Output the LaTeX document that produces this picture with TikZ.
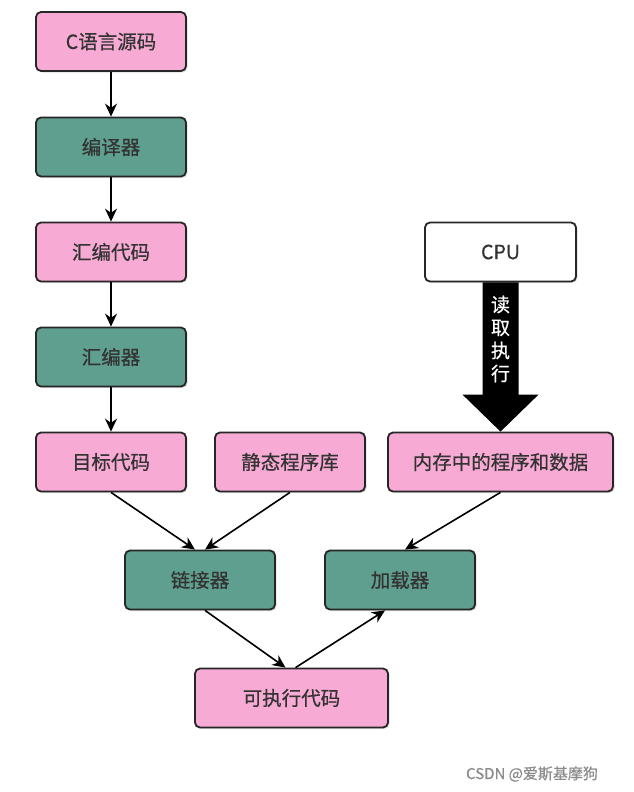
\documentclass[tikz,border=0pt]{standalone}
\usepackage{fontspec}
\setmainfont{Noto Sans CJK SC}[FakeBold=0.6]
\usepackage{xcolor}
\usetikzlibrary{arrows.meta,shadows}
\definecolor{srcpink}{HTML}{F7AAD4}
\definecolor{tooltal}{HTML}{5F9F8F}
\tikzset{
  box/.style={draw=black!85,line width=1.8pt,rounded corners=5pt,minimum width=150pt,minimum height=59pt,
    font=\fontsize{19.5}{22}\selectfont,text=black!80,drop shadow={shadow xshift=1.5pt,shadow yshift=-1.5pt,opacity=.25}},
  pinkbox/.style={box,fill=srcpink},
  toolbox/.style={box,fill=tooltal},
  flow/.style={-{Stealth[length=13pt,width=12pt]},line width=1.6pt}
}
\begin{document}
\begin{tikzpicture}[x=1pt,y=-1pt]
\useasboundingbox (0,0) rectangle (633,792);
	\node[pinkbox] at (111,41.5) (src) {C语言源码};
	\node[toolbox] at (111,147) (cc) {编译器};
	\node[pinkbox] at (111,252) (asm) {汇编代码};
	\node[toolbox] at (111,357) (as) {汇编器};
	\node[pinkbox] at (111,462) (obj) {目标代码};
	\node[pinkbox] at (290,462) (lib) {静态程序库};
	\node[pinkbox,minimum width=225pt] at (500.5,462) (mem) {内存中的程序和数据};
	\node[box,fill=white,minimum width=151pt] at (500.5,252) (cpu) {CPU};
	\node[toolbox] at (200,580) (ld) {链接器};
	\node[toolbox] at (400,580) (load) {加载器};
	\node[pinkbox,minimum width=193pt] at (291.5,698) (exe) {可执行代码};
	\draw [flow] (src) -- (cc);
	\draw [flow] (cc) -- (asm);
	\draw [flow] (asm) -- (as);
	\draw [flow] (as) -- (obj);
	\draw [flow] (obj.south) -- ([xshift=-5pt] ld.north);
	\draw [flow] (lib.south) -- ([xshift=5pt] ld.north);
	\draw [flow] (mem.south) -- ([xshift=5pt] load.north);
	\draw [flow] ([xshift=5pt] ld.south) -- ([xshift=-6pt] exe.north);
	\draw [flow] ([xshift=4pt] exe.north) -- ([xshift=-15pt] load.south);
	% big read arrow
	\fill[black] ([xshift=-18pt] cpu.south) -- ([xshift=18pt] cpu.south) -- ([xshift=18pt,yshift=37pt] mem.north)
	  -- ([xshift=38pt,yshift=37pt] mem.north) -- (mem.north) -- ([xshift=-38pt,yshift=37pt] mem.north)
	  -- ([xshift=-18pt,yshift=37pt] mem.north) -- cycle;
	\node[text=white,font=\fontsize{19}{23}\selectfont,align=center] at (500.5,339) (rd) {读\\取\\执\\行};
	\node[text=black!45,font=\fontsize{15}{17}\selectfont] at (532,774) (mark) {CSDN @爱斯基摩狗};
\end{tikzpicture}
\end{document}
